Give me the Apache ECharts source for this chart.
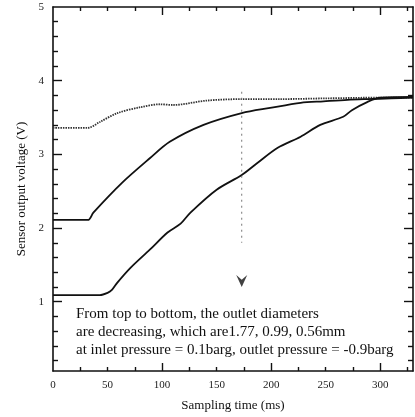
<!DOCTYPE html>
<html>
<head>
<meta charset="utf-8">
<script src="https://cdn.jsdelivr.net/npm/echarts@6/dist/echarts.min.js"></script>
<style>html,body{margin:0;padding:0;background:#fff}#c{width:415px;height:417px}</style>
</head>
<body>
<div id="c"></div>
<script>
// Data (time in ms, voltage in V)
var curve177 = [[0,3.36],[32,3.36],[43,3.44],[59,3.56],[80,3.64],[98,3.68],[110,3.67],[141,3.73],[173,3.75],[208,3.75],[250,3.76],[300,3.77],[330,3.77]];
var curve099 = [[0,2.11],[32,2.11],[37,2.21],[63,2.61],[89,2.95],[107,3.17],[138,3.40],[173,3.56],[199,3.63],[227,3.70],[248,3.72],[270,3.74],[288,3.75],[310,3.76],[330,3.77]];
var curve056 = [[0,1.09],[43,1.09],[50,1.12],[54,1.16],[59,1.26],[71,1.46],[89,1.71],[105,1.94],[117,2.06],[126,2.21],[150,2.52],[173,2.72],[187,2.88],[206,3.09],[227,3.24],[245,3.40],[266,3.51],[274,3.60],[288,3.71],[300,3.77],[330,3.78]];
var markerLine = [[173,3.85],[173,1.80]];
var markerArrow = [[173,1.28]];
var xLabels = [0,50,100,150,200,250,300];
var xMajor = [100,200,300];
var xMinor = [25,50,75,125,150,175,225,250,275,325];
var yLabels = [1,2,3,4,5];
var yMajor = [1,2,3,4];
var yMinor = [0.2,0.4,0.6,0.8,1.2,1.4,1.6,1.8,2.2,2.4,2.6,2.8,3.2,3.4,3.6,3.8,4.2,4.4,4.6,4.8];
var noteLines = ['From top to bottom, the outlet diameters','are decreasing, which are1.77, 0.99, 0.56mm','at inlet pressure = 0.1barg, outlet pressure = -0.9barg'];

var FONT = 'Liberation Serif';
var X_MIN = 0, X_MAX = 330, Y_MIN = 0.06, Y_MAX = 5;

function xAx(pos, ticks, len, main) {
  return {
    type:'value', position:pos, min:X_MIN, max:X_MAX,
    name: main && pos==='bottom' ? 'Sampling time (ms)' : '',
    nameLocation:'middle', nameGap:28,
    nameTextStyle:{fontFamily:FONT, fontSize:13, color:'#111'},
    axisLine:{show:main, onZero:false, lineStyle:{color:'#111', width:1.6}},
    axisTick:{show:true, inside:true, length:len, customValues:ticks, lineStyle:{color:'#111', width:1.4}},
    axisLabel:{show: main && pos==='bottom', customValues:xLabels, margin:9, fontFamily:FONT, fontSize:11, color:'#222'},
    splitLine:{show:false}
  };
}
function yAx(pos, ticks, len, main) {
  return {
    type:'value', position:pos, min:Y_MIN, max:Y_MAX,
    name: main && pos==='left' ? 'Sensor output voltage (V)' : '',
    nameLocation:'middle', nameGap:25, nameRotate:90,
    nameTextStyle:{fontFamily:FONT, fontSize:13, color:'#111'},
    axisLine:{show:main, onZero:false, lineStyle:{color:'#111', width:1.6}},
    axisTick:{show:true, inside:true, length:len, customValues:ticks, lineStyle:{color:'#111', width:1.4}},
    axisLabel:{show: main && pos==='left', customValues:yLabels, margin:9, fontFamily:FONT, fontSize:11, color:'#222'},
    splitLine:{show:false}
  };
}

var chart = echarts.init(document.getElementById('c'), null, {renderer:'canvas'});
chart.setOption({
  animation:false,
  backgroundColor:'#fff',
  grid:{left:53, right:2, top:7, bottom:46, containLabel:false},
  xAxis:[xAx('bottom', xMajor, 8, true), xAx('bottom', xMinor, 4, false), xAx('top', xMajor, 8, true), xAx('top', xMinor, 4, false)],
  yAxis:[yAx('left', yMajor, 9, true), yAx('left', yMinor, 5, false), yAx('right', yMajor, 9, true), yAx('right', yMinor, 5, false)],
  series:[
    {type:'line', data:curve177, showSymbol:false, smooth:0.3, lineStyle:{color:'#333', width:1.8, type:[1.5,1]}},
    {type:'line', data:curve099, showSymbol:false, smooth:0.3, lineStyle:{color:'#111', width:1.8}},
    {type:'line', data:curve056, showSymbol:false, smooth:0.3, lineStyle:{color:'#111', width:1.8}},
    {type:'line', data:markerLine, showSymbol:false, lineStyle:{color:'#777', width:1, type:[2,4]}},
    {type:'scatter', data:markerArrow, symbol:'path://M0,0 L6,5 L12,0 L6,13 Z', symbolSize:[11,12], itemStyle:{color:'#111'}}
  ],
  graphic: noteLines.map(function(t, i){
    return {type:'text', left:76, top:307 + i*18, style:{text:t, font:'15px "' + FONT + '"', fill:'#111'}};
  })
});
</script>
</body>
</html>
